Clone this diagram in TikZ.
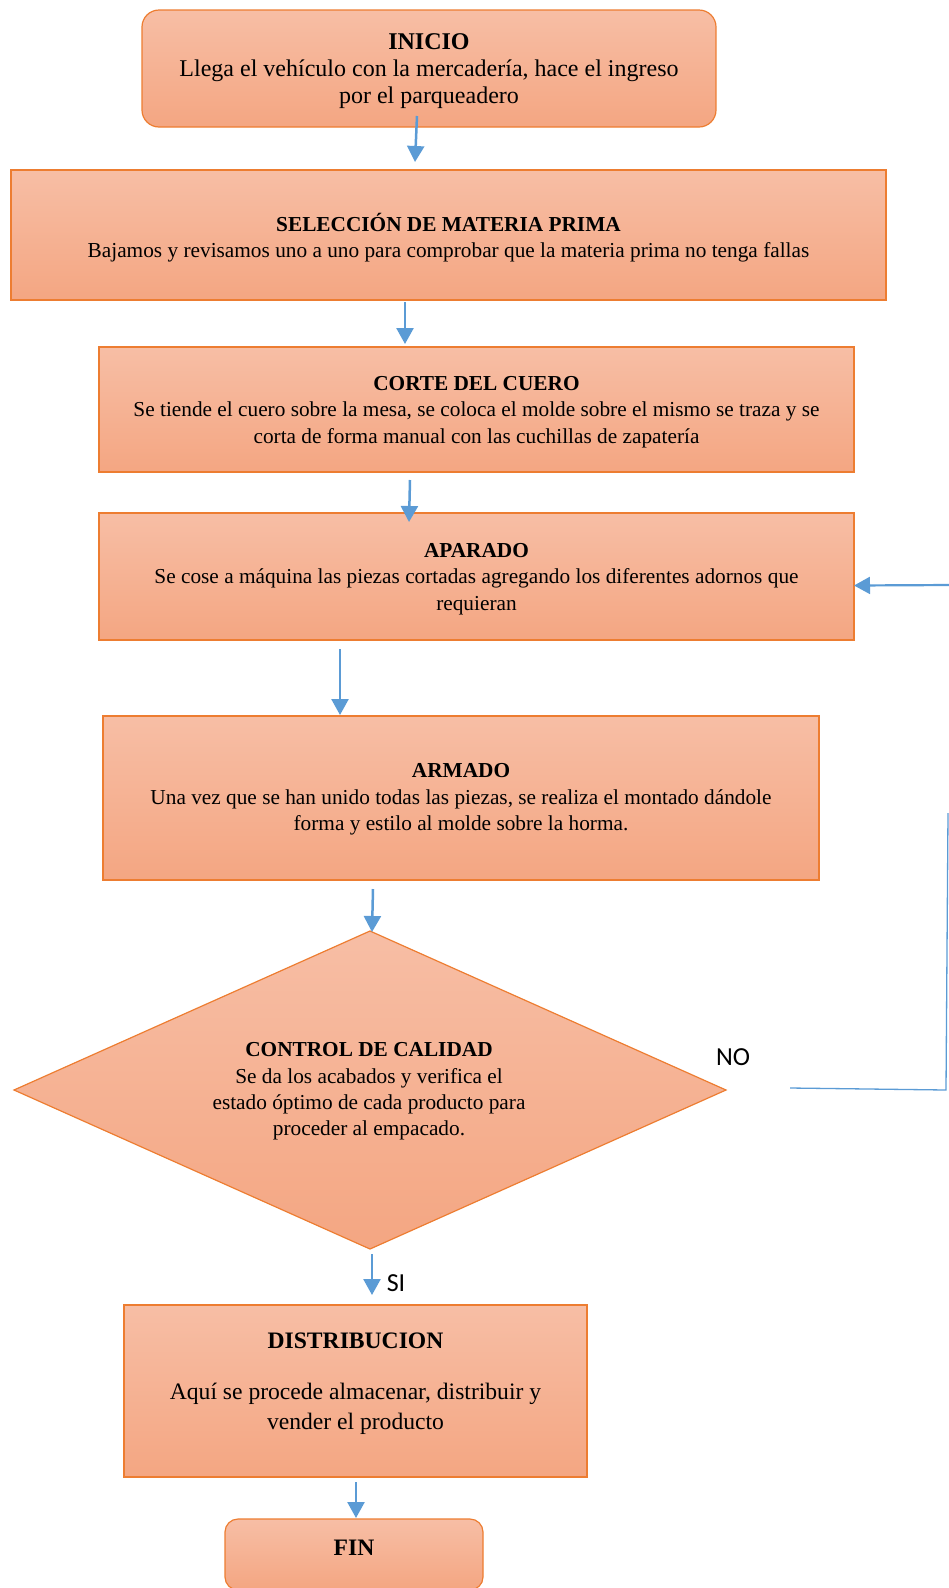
\documentclass[tikz,border=0pt]{standalone}
\usepackage{fontspec}
\setmainfont{Liberation Serif}
\newfontfamily\calib{Carlito}
\usetikzlibrary{shapes.geometric,arrows.meta,calc}
\definecolor{ftop}{RGB}{247,190,165}
\definecolor{fbot}{RGB}{244,166,130}
\definecolor{oline}{RGB}{237,125,49}
\definecolor{ablue}{RGB}{91,155,213}
\begin{document}
\begin{tikzpicture}[x=1pt,y=-1pt,
  box/.style={draw=oline, line width=1.2pt, top color=ftop, bottom color=fbot,
    inner sep=0pt, outer sep=0pt},
  rbox/.style={box, rounded corners=17pt},
  txt/.style={inner sep=0pt, outer sep=0pt, align=center, text=black},
  fA/.style={font=\fontsize{24}{27.3}\selectfont},
  fB/.style={font=\fontsize{21.3}{26.4}\selectfont},
  fC/.style={font=\fontsize{23.6}{29.4}\selectfont},
  arr/.style={draw=ablue, line width=2.5pt, -{Triangle[length=16pt,width=17pt]}},
  thinline/.style={draw=ablue, line width=1.3pt},
  lbl/.style={font=\calib\fontsize{26}{30}\selectfont, inner sep=0pt, text=black}]
\useasboundingbox (0,0) rectangle (949,1588);

\node[rbox, minimum width=574pt, minimum height=117pt] (inicio) at (429,68.5) {};
\node[txt, fA] (inicio-t) at (429,71)
  {\textbf{INICIO}\\Llega el vehículo con la mercadería, hace el ingreso\\por el parqueadero};

\node[box, minimum width=875pt, minimum height=130pt] (sel) at (448.5,235) {};
\node[txt, fB] (sel-t) at (448.5,237.5)
  {\textbf{SELECCIÓN DE MATERIA PRIMA}\\Bajamos y revisamos uno a uno para comprobar que la materia prima no tenga fallas};

\node[box, minimum width=755pt, minimum height=125pt] (corte) at (476.5,409.5) {};
\node[txt, fB] (corte-t) at (476.5,412)
  {\textbf{CORTE DEL CUERO}\\Se tiende el cuero sobre la mesa, se coloca el molde sobre el mismo se traza y se\\corta de forma manual con las cuchillas de zapatería};

\node[box, minimum width=755pt, minimum height=127pt] (aparado) at (476.5,576.5) {};
\node[txt, fB] (aparado-t) at (476.5,579)
  {\textbf{APARADO}\\Se cose a máquina las piezas cortadas agregando los diferentes adornos que\\requieran};

\node[box, minimum width=716pt, minimum height=164pt] (armado) at (461,798) {};
\node[txt, fB] (armado-t) at (461,799.5)
  {\textbf{ARMADO}\\Una vez que se han unido todas las piezas, se realiza el montado dándole\\forma y estilo al molde sobre la horma.};

\node[box, diamond, aspect=2.24, minimum width=712pt, minimum height=318pt] (ctrl) at (370,1090) {};
\node[txt, fB] (ctrl-t) at (369,1091.5)
  {\textbf{CONTROL DE CALIDAD}\\Se da los acabados y verifica el\\estado óptimo de cada producto para\\proceder al empacado.};

\node[box, minimum width=463pt, minimum height=172pt] (dist) at (355.5,1391) {};
\node[txt, fC] (dist-t) at (355.5,1383.5)
  {\textbf{DISTRIBUCION}\\[22pt]Aquí se procede almacenar, distribuir y\\vender el producto};

\node[rbox, rounded corners=13pt, minimum width=258pt, minimum height=71pt] (fin) at (354,1554.5) {};
\node[txt, fC] (fin-t) at (354,1548) {\textbf{FIN}};

% arrows
\draw[arr] ([shift={(-12,-11)}]inicio.south) -- ([shift={(-33.5,-8)}]sel.north);
\draw[arr] ([shift={(-43.5,2)}]sel.south) -- ([shift={(-71.5,-3)}]corte.north);
\draw[arr] ([shift={(-66.5,8)}]corte.south) -- ([shift={(-67.5,9)}]aparado.north);
\draw[arr] ([shift={(-136.5,9)}]aparado.south) -- ([shift={(-121,-1)}]armado.north);
\draw[arr] ([shift={(-88,9)}]armado.south) -- ([shift={(2,1)}]ctrl.north);
\draw[arr] ([shift={(2,5)}]ctrl.south) -- ([shift={(16.5,-10)}]dist.north);
\draw[arr] ([shift={(0.5,5)}]dist.south) -- ([shift={(2,-1)}]fin.north);

% NO loop
\coordinate (noA) at ([shift={(64,-2)}]ctrl.east);
\coordinate (noB) at (946,1090);
\coordinate (noC) at (948,813);
\coordinate (noD) at (951,585);
\draw[thinline] (noA) -- (noB) -- (noC);
\draw[arr, line width=2.2pt] (noD) -- ([shift={(0,9)}]aparado.east);

\node[lbl] (no) at (733,1057) {NO};
\node[lbl] (si) at (396,1283) {SI};
\end{tikzpicture}
\end{document}
